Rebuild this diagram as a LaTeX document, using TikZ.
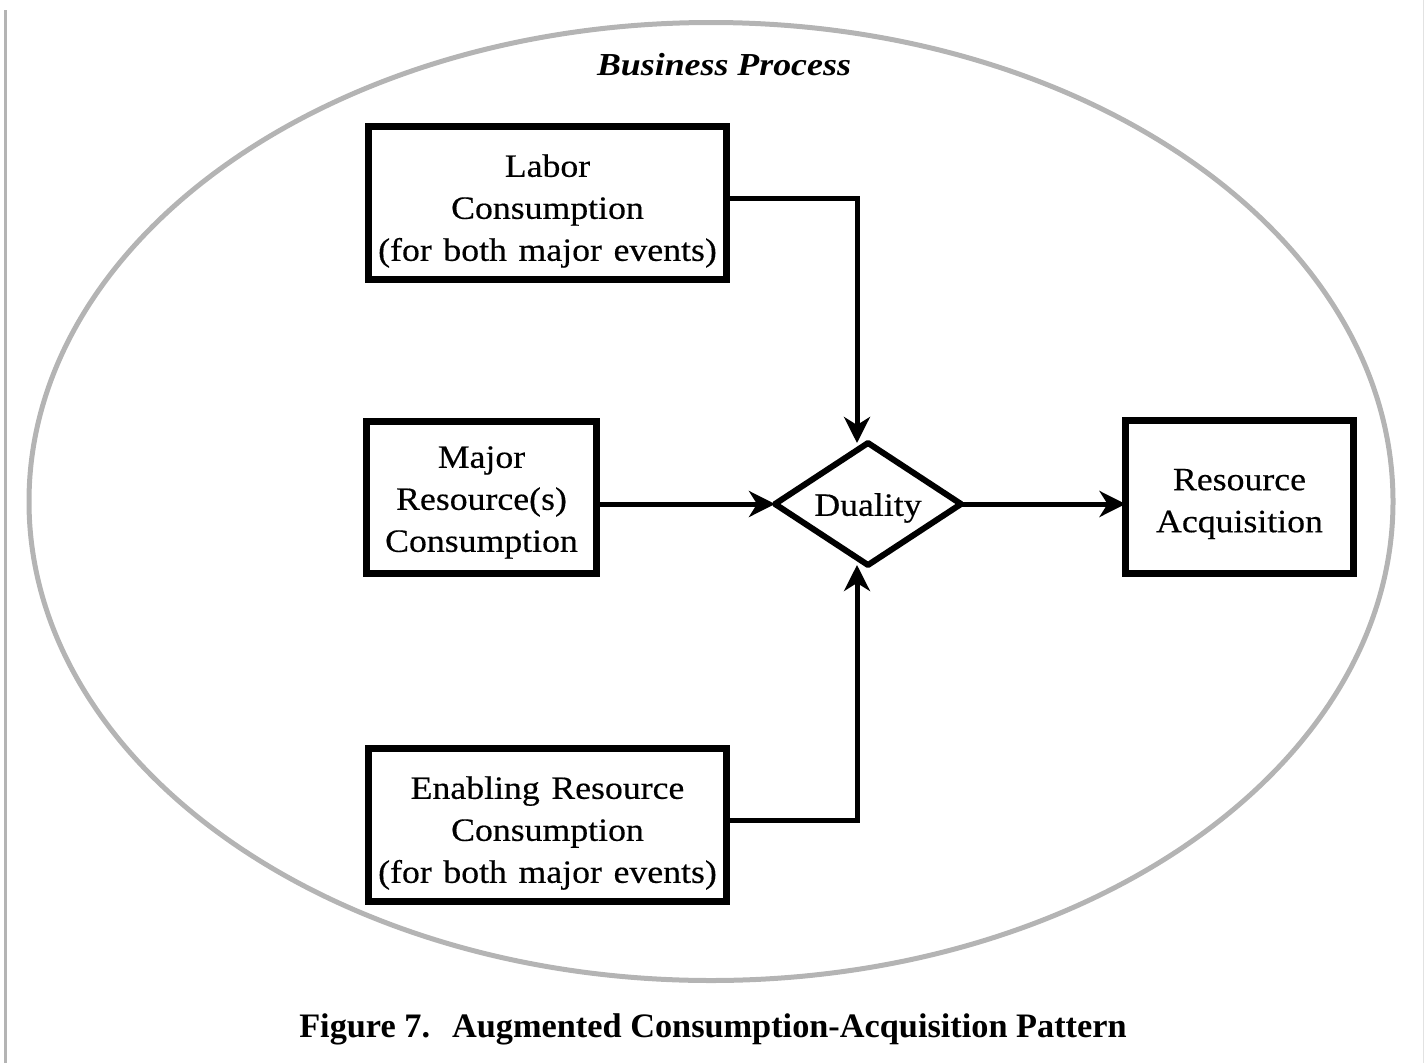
\documentclass[tikz,border=0pt]{standalone}
\usepackage{fontspec}
\setmainfont{Liberation Serif}
\newfontfamily\boxfont{Liberation Serif}[FakeStretch=1.1, WordSpace=1.3, FakeBold=0.4]
\newfontfamily\titlefont{Liberation Serif}[FakeStretch=1.12]
\usetikzlibrary{arrows.meta,shapes.geometric}

\definecolor{rimgray}{HTML}{B4B4B4}
\definecolor{edgegray}{HTML}{E2E2E2}

\tikzset{
  box/.style={draw, line width=7pt, rectangle, inner sep=0pt, outer sep=0pt},
  boxtext/.style={align=center, inner sep=0pt, font=\boxfont\fontsize{32.5}{42}\selectfont},
  dualnode/.style={draw, diamond, line width=6pt, line join=round,
    minimum width=186pt, minimum height=122pt, inner sep=0pt, outer sep=0pt},
  conn/.style={line width=5pt, -{Stealth[length=26pt, width=26pt, inset=8pt]}},
  rim/.style={draw=rimgray, line width=5pt},
}

\begin{document}
\begin{tikzpicture}[x=1pt, y=-1pt]
  \useasboundingbox (0,0) rectangle (1424,1063);

  % page rules at the edges
  \draw[rimgray, line width=3pt] (5.5,10) -- (5.5,1063);
  \draw[edgegray, line width=1.2pt] (1423.4,0) -- (1423.4,1063);

  % the business-process boundary
  \draw[rim] (711,501.5) ellipse [x radius=682, y radius=479];
  \node[font=\titlefont\fontsize{32}{38}\selectfont\bfseries\itshape] (bp) at (724,65) {Business Process};

  % event boxes
  \node[box, minimum width=358pt, minimum height=153pt] (labor) at (547.5,203) {};
  \node[box, minimum width=230pt, minimum height=152pt] (major) at (481.5,497.5) {};
  \node[box, minimum width=358pt, minimum height=153pt] (enabling) at (547.5,825) {};
  \node[box, minimum width=228pt, minimum height=153pt] (acq) at (1239.5,497) {};

  % box captions
  \node[boxtext] (laborT) at ([yshift=-8pt]labor.center)
    {Labor\\Consumption\\(for both major events)};
  \node[boxtext] (majorT) at ([yshift=-5pt]major.center)
    {Major\\Resource(s)\\Consumption};
  \node[boxtext] (enablingT) at ([yshift=-8pt]enabling.center)
    {Enabling Resource\\Consumption\\(for both major events)};
  \node[boxtext] (acqT) at ([yshift=-7pt]acq.center)
    {Resource\\Acquisition};

  % duality relationship
  \node[dualnode] (dual) at (868,504) {};
  \node[boxtext] (dualT) at ([yshift=-4pt]dual.center) {Duality};

  % connectors
  \draw[conn] ([yshift=5pt]labor.east) -| ([xshift=-11pt]dual.north);
  \draw[conn] (major.east |- dual.west) -- (dual.west);
  \draw[conn] ([yshift=5pt]enabling.east) -| ([xshift=-11pt]dual.south);
  \draw[conn] (dual.east) -- (dual.east -| acq.west);

  % caption
  \node[anchor=base, font=\fontsize{34.3}{40}\selectfont\bfseries] (cap) at (713,1037)
    {Figure 7.\hspace{22pt}Augmented Consumption-Acquisition Pattern};
\end{tikzpicture}
\end{document}
